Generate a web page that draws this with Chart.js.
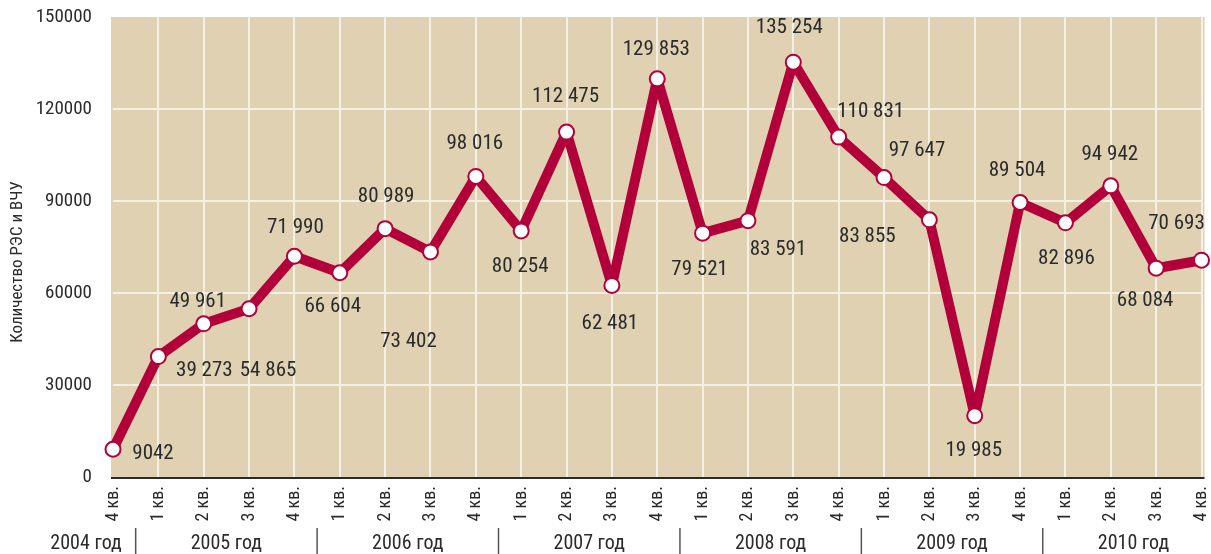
<!DOCTYPE html>
<html>
<head>
<meta charset="utf-8">
<script src="https://cdn.jsdelivr.net/npm/chart.js@4/dist/chart.umd.min.js"></script>
<style>
  html, body { margin: 0; padding: 0; background: #fff; }
  #wrap { width: 1211px; height: 554px; }
</style>
</head>
<body>
<div id="wrap"><canvas id="chart" width="1211" height="554"></canvas></div>
<script>
// Quarter labels (2004 Q4 .. 2010 Q4)
const quarters = ['4 кв.',
  '1 кв.', '2 кв.', '3 кв.', '4 кв.',
  '1 кв.', '2 кв.', '3 кв.', '4 кв.',
  '1 кв.', '2 кв.', '3 кв.', '4 кв.',
  '1 кв.', '2 кв.', '3 кв.', '4 кв.',
  '1 кв.', '2 кв.', '3 кв.', '4 кв.',
  '1 кв.', '2 кв.', '3 кв.', '4 кв.'];

// Number of RES and HF devices per quarter
const counts = [9042,
  39273, 49961, 54865, 71990,
  66604, 80989, 73402, 98016,
  80254, 112475, 62481, 129853,
  79521, 83591, 135254, 110831,
  97647, 83855, 19985, 89504,
  82896, 94942, 68084, 70693];

// Year groups: label and how many quarters they cover
const years = ['2004 год', '2005 год', '2006 год', '2007 год', '2008 год', '2009 год', '2010 год'];
const yearQuarters = [1, 4, 4, 4, 4, 4, 4];

const yTicks = [0, 30000, 60000, 90000, 120000, 150000];

// Where each value label sits relative to its point (dx, dy in px)
const labelOffsets = [
  [40, 4], [46, 14], [-6, -22], [19, 62], [1, -28],
  [-7, 34], [1, -32], [-22, 90], [-1, -33],
  [-1, 36], [-1, -35], [-2, 38], [-1, -29],
  [-3, 37], [30, 29], [-4, -34], [32, -25],
  [33, -27], [-62, 17], [-1, 35], [-3, -32],
  [1, 36], [-1, -31], [-11, 33], [-25, -36]
];

// pick a narrow font that is actually installed
function hasFont(name) {
  const c = document.createElement('canvas').getContext('2d');
  const s = 'Количество 0123456789';
  c.font = '40px monospace';
  const w1 = c.measureText(s).width;
  c.font = '40px "' + name + '", monospace';
  return c.measureText(s).width !== w1;
}
const narrowFonts = ['Roboto Condensed', 'Liberation Sans Narrow', 'Open Sans Condensed', 'DejaVu Sans Condensed'];
const picked = narrowFonts.find(hasFont) || 'DejaVu Sans Condensed';
const FONT = '"' + picked + '", sans-serif';
const K = picked === 'DejaVu Sans Condensed' ? 0.85 : 1;

const RED = '#b2003a';
const TEXT = '#2b2b2b';
const GRID = '#f6f0e4';

// Background of the plot area, axis line, value labels, axis title and the year row
const decorPlugin = {
  id: 'decor',
  beforeDraw(chart) {
    const { ctx, chartArea } = chart;
    ctx.save();
    ctx.fillStyle = '#dfd1b1';
    ctx.fillRect(chartArea.left - 2, chartArea.top, chartArea.right - chartArea.left + 5, chartArea.bottom - chartArea.top);
    ctx.restore();
  },
  afterDatasetsDraw(chart) {
    const { ctx, chartArea, scales } = chart;
    const x = scales.x;
    ctx.save();
    // bottom axis line
    ctx.strokeStyle = '#2b2b2b';
    ctx.lineWidth = 2;
    ctx.beginPath();
    ctx.moveTo(chartArea.left - 2, chartArea.bottom + 1);
    ctx.lineTo(chartArea.right + 3, chartArea.bottom + 1);
    ctx.stroke();

    // value labels
    const meta = chart.getDatasetMeta(0);
    ctx.fillStyle = TEXT;
    ctx.font = Math.round(21 * K) + 'px ' + FONT;
    ctx.textAlign = 'center';
    ctx.textBaseline = 'middle';
    meta.data.forEach((pt, i) => {
      const v = counts[i];
      const txt = v >= 10000 ? String(v).replace(/(\d{3})$/, ' $1') : String(v);
      const off = labelOffsets[i];
      ctx.fillText(txt, pt.x + off[0], pt.y + off[1]);
    });

    // y axis title
    ctx.save();
    ctx.translate(18, 262);
    ctx.rotate(-Math.PI / 2);
    ctx.font = Math.round(17 * K) + 'px ' + FONT;
    ctx.fillText('Количество РЭС и ВЧУ', 0, 0);
    ctx.restore();

    // year row
    ctx.font = Math.round(20 * K) + 'px ' + FONT;
    ctx.strokeStyle = '#555';
    ctx.lineWidth = 1.5;
    let start = 0;
    years.forEach((y, i) => {
      const n = yearQuarters[i];
      let cx;
      if (i === 0) cx = x.getPixelForValue(0) - 27;
      else cx = (x.getPixelForValue(start) + x.getPixelForValue(start + n - 1)) / 2;
      ctx.fillText(y, cx, 544);
      if (i > 0) {
        const sx = (x.getPixelForValue(start - 1) + x.getPixelForValue(start)) / 2;
        ctx.beginPath();
        ctx.moveTo(sx, 528);
        ctx.lineTo(sx, 554);
        ctx.stroke();
      }
      start += n;
    });
    ctx.restore();
  }
};

new Chart(document.getElementById('chart'), {
  type: 'line',
  data: {
    labels: quarters,
    datasets: [{
      data: counts,
      borderColor: RED,
      borderWidth: 10,
      borderJoinStyle: 'round',
      borderCapStyle: 'round',
      tension: 0,
      pointRadius: 7.5,
      pointBorderWidth: 2,
      pointBackgroundColor: '#fff',
      pointBorderColor: RED,
      clip: false
    }]
  },
  options: {
    responsive: false,
    animation: false,
    devicePixelRatio: 1,
    layout: { padding: { left: 0, right: 8, top: 17, bottom: 0 } },
    plugins: {
      legend: { display: false },
      tooltip: { enabled: false }
    },
    scales: {
      x: {
        offset: false,
        grid: {
          color: ctx => ctx.index === 0 ? 'rgba(0,0,0,0)' : GRID,
          lineWidth: 2,
          drawTicks: false
        },
        border: { display: false },
        ticks: {
          color: TEXT,
          font: { family: FONT, size: Math.round(18 * K) },
          minRotation: 90,
          maxRotation: 90,
          padding: 9,
          autoSkip: false
        },
        afterFit(scale) {
          scale.height = 77;
          scale.paddingLeft = 0;
          scale.paddingRight = 0;
        }
      },
      y: {
        min: 0,
        max: 150000,
        afterBuildTicks(scale) { scale.ticks = yTicks.map(v => ({ value: v })); },
        grid: {
          color: ctx => (ctx.tick && (ctx.tick.value === 0 || ctx.tick.value === 150000)) ? 'rgba(0,0,0,0)' : GRID,
          lineWidth: 2,
          drawTicks: false
        },
        border: { display: false },
        ticks: {
          color: TEXT,
          font: { family: FONT, size: Math.round(19 * K) },
          padding: 21,
          callback: v => String(v)
        },
        afterFit(scale) {
          scale.width = 113;
          scale.paddingTop = 0;
          scale.paddingBottom = 0;
        }
      }
    }
  },
  plugins: [decorPlugin]
});
</script>
</body>
</html>
